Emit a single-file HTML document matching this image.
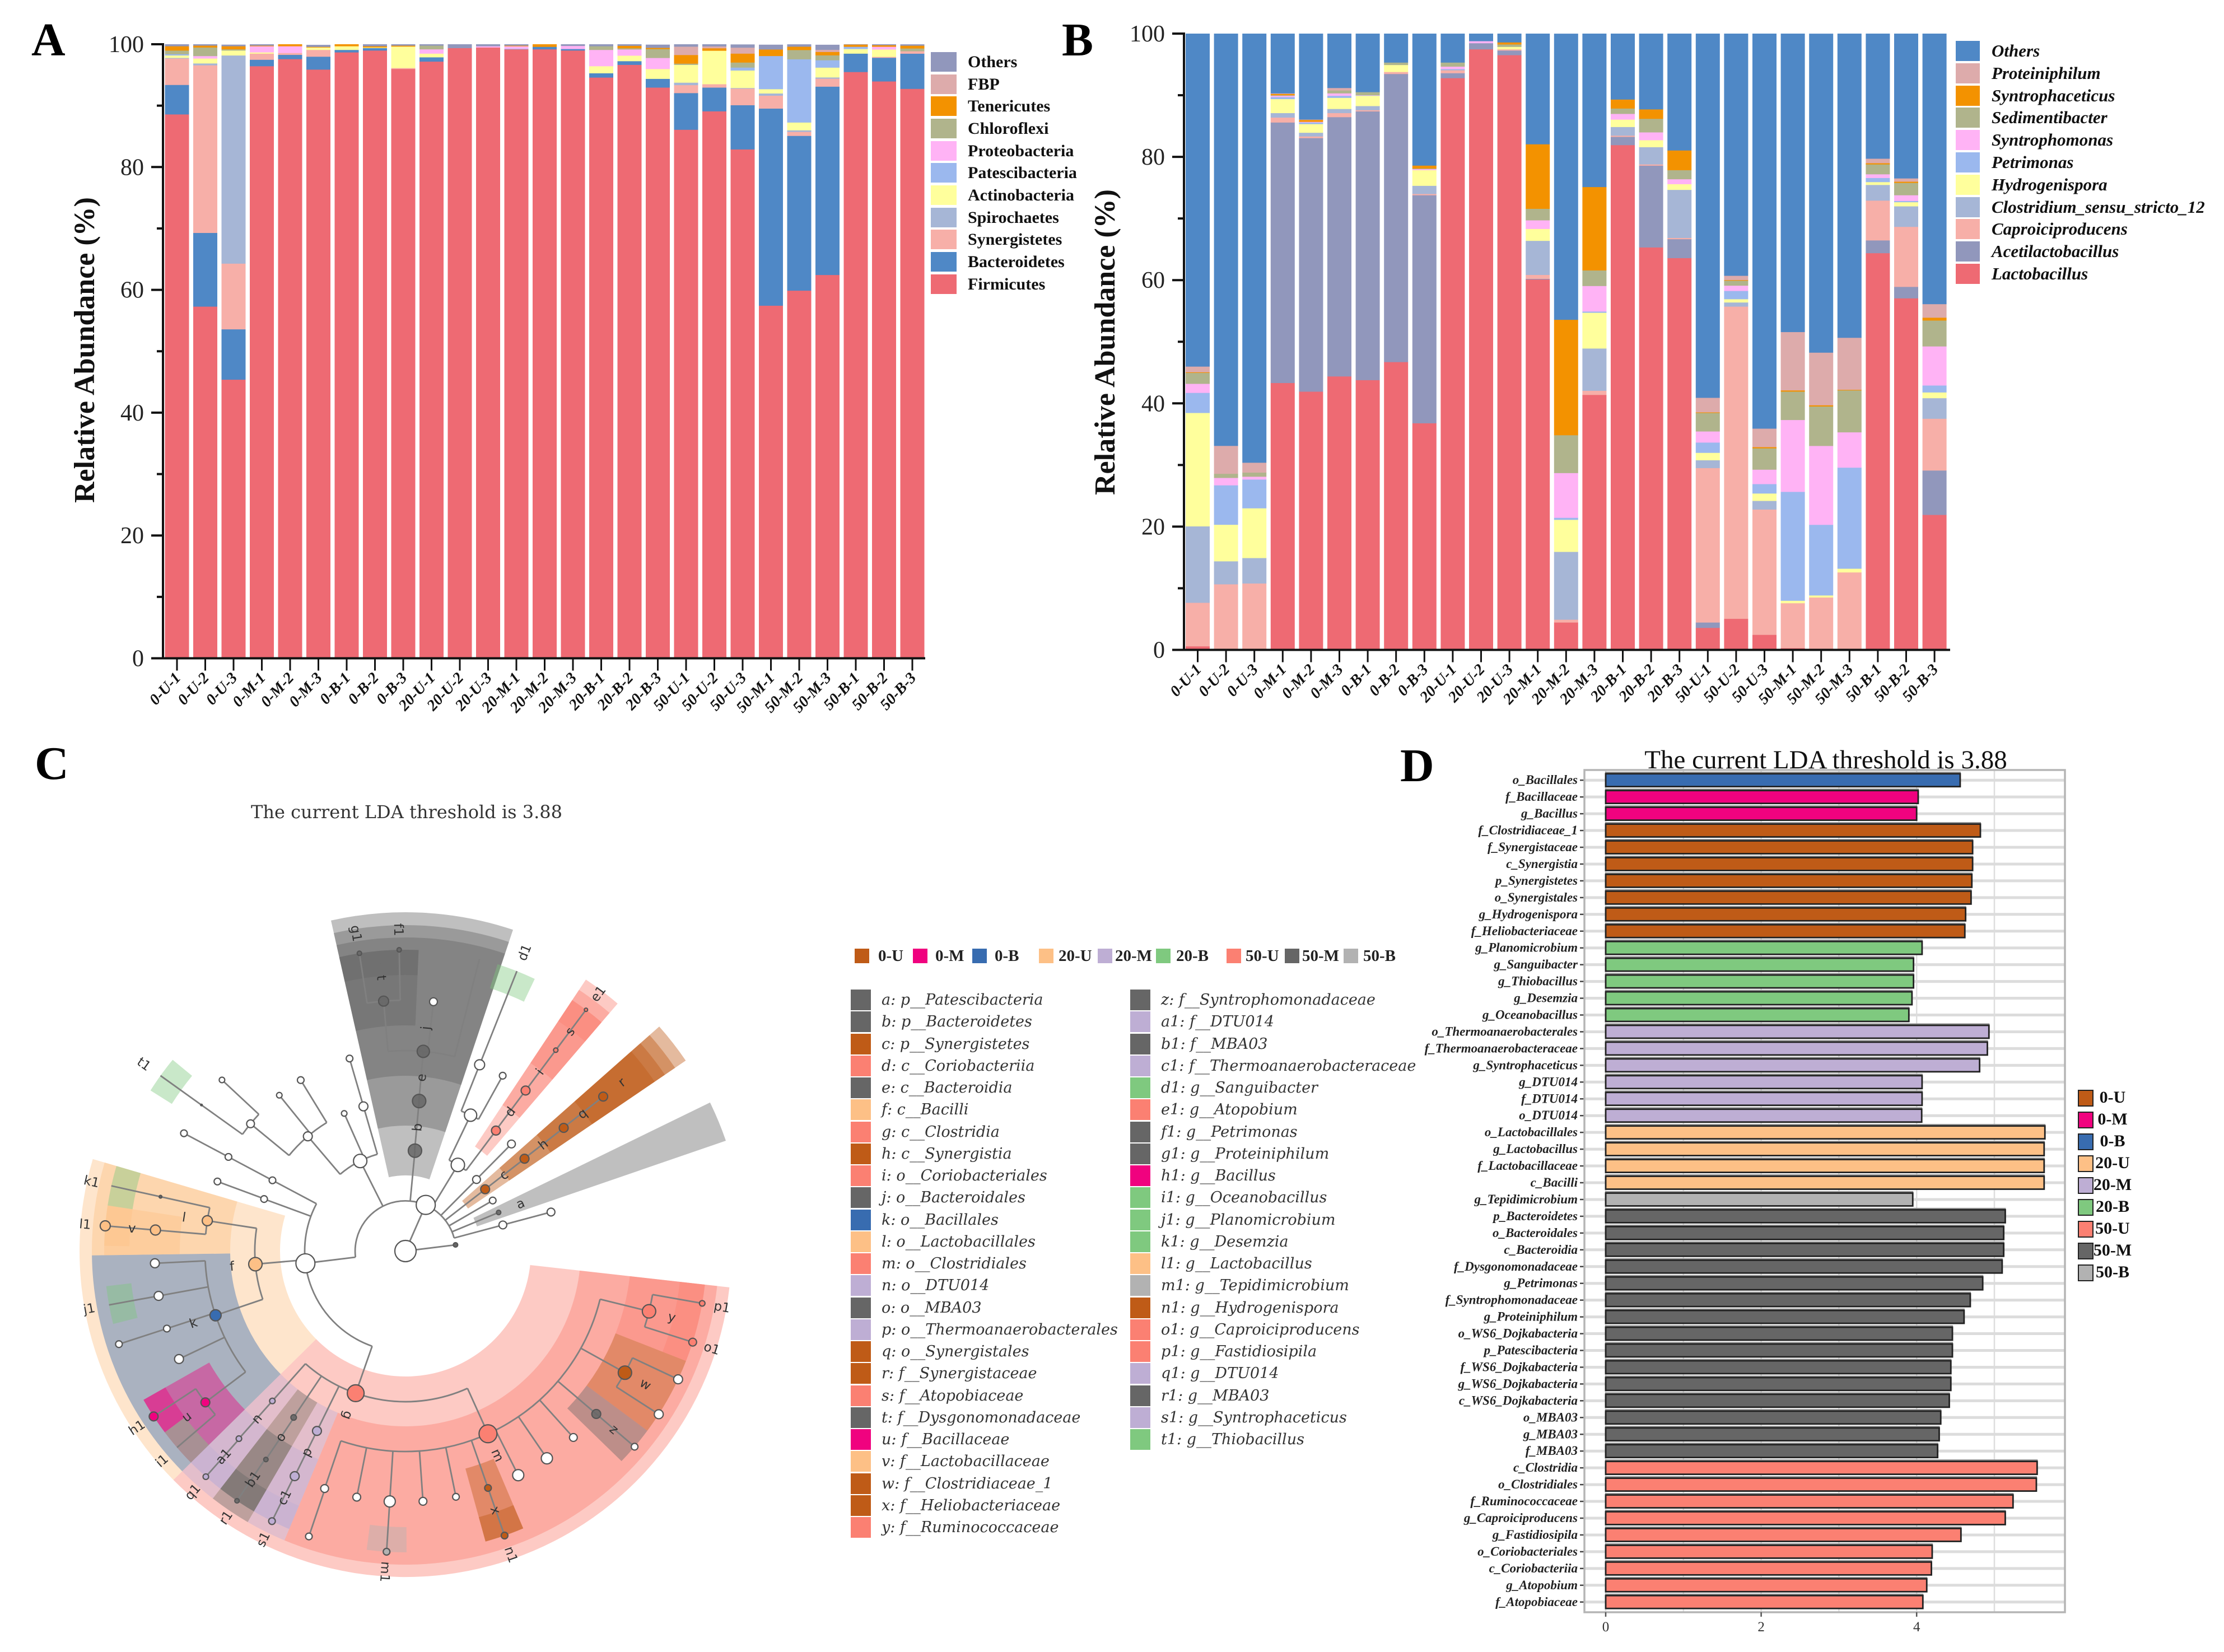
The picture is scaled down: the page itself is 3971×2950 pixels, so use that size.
<!DOCTYPE html>
<html lang="en">
<head>
<meta charset="utf-8">
<title>Microbial community composition and LEfSe analysis</title>
<style>
html,body{margin:0;padding:0;background:#fff}
#page{position:relative;width:3971px;height:2950px;overflow:hidden;background:#fff;font-family:"Liberation Serif",serif}
svg{position:absolute;left:0;top:0}
.panel-letter{position:absolute;font:bold 84px/84px "Liberation Serif",serif;color:#000}
.lg{position:absolute}
.lg div{position:relative;white-space:nowrap;color:#111}
.lg i{position:absolute;left:0;top:0;display:block}
.lgA div{height:39.67px;font:bold 30px/35px "Liberation Serif",serif;padding-left:66px}
.lgA i{width:46px;height:35px}
.lgB div{height:39.8px;font:italic bold 31px/35px "Liberation Serif",serif;padding-left:64px}
.lgB i{width:43px;height:36px}
.lgC div{height:39.25px;font:italic 27px/37px "DejaVu Serif",serif;padding-left:55px;color:#333}
.lgC i{width:36px;height:37px}
.top-item{position:absolute;top:1692px;font:bold 29px/30px "Liberation Serif",serif;white-space:nowrap;color:#222}
.top-item i{position:absolute;top:2px;width:26px;height:26px;display:block}
.lgD div{height:39px;font:bold 30px/28px "Liberation Serif",serif;width:130px;text-align:center;padding-left:0}
.lgD span{position:absolute;left:0;width:124px;text-align:center;padding-left:0}
.lgD i{width:24px;height:26px;border:2.5px solid #222;box-sizing:content-box;left:0}
.chart-title{position:absolute;white-space:nowrap;text-align:center}
</style>
</head>
<body>
<div id="page">
<svg id="plot" width="3971" height="2950" viewBox="0 0 3971 2950" xmlns="http://www.w3.org/2000/svg"></svg>

<div class="panel-letter" style="left:56px;top:30px">A</div>
<div class="panel-letter" style="left:1896px;top:30px">B</div>
<div class="panel-letter" style="left:62px;top:1322px">C</div>
<div class="panel-letter" style="left:2500px;top:1326px">D</div>

<div class="chart-title" style="left:350px;width:852px;top:1432px;margin-left:-50px;font:32px/36px 'DejaVu Serif',serif;color:#333">The current LDA threshold is 3.88</div>
<div class="chart-title" style="left:2860px;width:800px;top:1332px;font:47px/50px 'Liberation Serif',serif;color:#111">The current LDA threshold is 3.88</div>

<div class="lg lgA" style="left:1662px;top:93px">
<div><i style="background:#9197BC"></i>Others</div>
<div><i style="background:#DDABAB"></i>FBP</div>
<div><i style="background:#F39200"></i>Tenericutes</div>
<div><i style="background:#B0B48C"></i>Chloroflexi</div>
<div><i style="background:#FFB3F5"></i>Proteobacteria</div>
<div><i style="background:#9BB8EE"></i>Patescibacteria</div>
<div><i style="background:#FFFF9C"></i>Actinobacteria</div>
<div><i style="background:#A6B6D6"></i>Spirochaetes</div>
<div><i style="background:#F7AFA8"></i>Synergistetes</div>
<div><i style="background:#4F88C6"></i>Bacteroidetes</div>
<div><i style="background:#EE6A73"></i>Firmicutes</div>
</div>

<div class="lg lgB" style="left:3492px;top:73px">
<div><i style="background:#4F88C6"></i>Others</div>
<div><i style="background:#DDABAB"></i>Proteiniphilum</div>
<div><i style="background:#F39200"></i>Syntrophaceticus</div>
<div><i style="background:#B0B48C"></i>Sedimentibacter</div>
<div><i style="background:#FFB3F5"></i>Syntrophomonas</div>
<div><i style="background:#9BB8EE"></i>Petrimonas</div>
<div><i style="background:#FFFF9C"></i>Hydrogenispora</div>
<div><i style="background:#A6B6D6"></i>Clostridium_sensu_stricto_12</div>
<div><i style="background:#F7AFA8"></i>Caproiciproducens</div>
<div><i style="background:#9197BC"></i>Acetilactobacillus</div>
<div><i style="background:#EE6A73"></i>Lactobacillus</div>
</div>

<div>
<div class="top-item" style="left:1526px;padding-left:42px"><i style="left:0;background:#BF5B17"></i>0-U</div>
<div class="top-item" style="left:1630px;padding-left:40px"><i style="left:0;background:#F0027F"></i>0-M</div>
<div class="top-item" style="left:1736px;padding-left:40px"><i style="left:0;background:#386CB0"></i>0-B</div>
<div class="top-item" style="left:1855px;padding-left:35px"><i style="left:0;background:#FDC086"></i>20-U</div>
<div class="top-item" style="left:1960px;padding-left:31px"><i style="left:0;background:#BEAED4"></i>20-M</div>
<div class="top-item" style="left:2064px;padding-left:36px"><i style="left:0;background:#7FC97F"></i>20-B</div>
<div class="top-item" style="left:2190px;padding-left:34px"><i style="left:0;background:#FB8072"></i>50-U</div>
<div class="top-item" style="left:2294px;padding-left:31px"><i style="left:0;background:#666666"></i>50-M</div>
<div class="top-item" style="left:2399px;padding-left:35px"><i style="left:0;background:#B2B2B2"></i>50-B</div>
</div>

<div class="lg lgC" style="left:1519px;top:1767px">
<div><i style="background:#666666"></i>a: p__Patescibacteria</div>
<div><i style="background:#666666"></i>b: p__Bacteroidetes</div>
<div><i style="background:#BF5B17"></i>c: p__Synergistetes</div>
<div><i style="background:#FB8072"></i>d: c__Coriobacteriia</div>
<div><i style="background:#666666"></i>e: c__Bacteroidia</div>
<div><i style="background:#FDC086"></i>f: c__Bacilli</div>
<div><i style="background:#FB8072"></i>g: c__Clostridia</div>
<div><i style="background:#BF5B17"></i>h: c__Synergistia</div>
<div><i style="background:#FB8072"></i>i: o__Coriobacteriales</div>
<div><i style="background:#666666"></i>j: o__Bacteroidales</div>
<div><i style="background:#386CB0"></i>k: o__Bacillales</div>
<div><i style="background:#FDC086"></i>l: o__Lactobacillales</div>
<div><i style="background:#FB8072"></i>m: o__Clostridiales</div>
<div><i style="background:#BEAED4"></i>n: o__DTU014</div>
<div><i style="background:#666666"></i>o: o__MBA03</div>
<div><i style="background:#BEAED4"></i>p: o__Thermoanaerobacterales</div>
<div><i style="background:#BF5B17"></i>q: o__Synergistales</div>
<div><i style="background:#BF5B17"></i>r: f__Synergistaceae</div>
<div><i style="background:#FB8072"></i>s: f__Atopobiaceae</div>
<div><i style="background:#666666"></i>t: f__Dysgonomonadaceae</div>
<div><i style="background:#F0027F"></i>u: f__Bacillaceae</div>
<div><i style="background:#FDC086"></i>v: f__Lactobacillaceae</div>
<div><i style="background:#BF5B17"></i>w: f__Clostridiaceae_1</div>
<div><i style="background:#BF5B17"></i>x: f__Heliobacteriaceae</div>
<div><i style="background:#FB8072"></i>y: f__Ruminococcaceae</div>
</div>
<div class="lg lgC" style="left:2018px;top:1767px">
<div><i style="background:#666666"></i>z: f__Syntrophomonadaceae</div>
<div><i style="background:#BEAED4"></i>a1: f__DTU014</div>
<div><i style="background:#666666"></i>b1: f__MBA03</div>
<div><i style="background:#BEAED4"></i>c1: f__Thermoanaerobacteraceae</div>
<div><i style="background:#7FC97F"></i>d1: g__Sanguibacter</div>
<div><i style="background:#FB8072"></i>e1: g__Atopobium</div>
<div><i style="background:#666666"></i>f1: g__Petrimonas</div>
<div><i style="background:#666666"></i>g1: g__Proteiniphilum</div>
<div><i style="background:#F0027F"></i>h1: g__Bacillus</div>
<div><i style="background:#7FC97F"></i>i1: g__Oceanobacillus</div>
<div><i style="background:#7FC97F"></i>j1: g__Planomicrobium</div>
<div><i style="background:#7FC97F"></i>k1: g__Desemzia</div>
<div><i style="background:#FDC086"></i>l1: g__Lactobacillus</div>
<div><i style="background:#B2B2B2"></i>m1: g__Tepidimicrobium</div>
<div><i style="background:#BF5B17"></i>n1: g__Hydrogenispora</div>
<div><i style="background:#FB8072"></i>o1: g__Caproiciproducens</div>
<div><i style="background:#FB8072"></i>p1: g__Fastidiosipila</div>
<div><i style="background:#BEAED4"></i>q1: g__DTU014</div>
<div><i style="background:#666666"></i>r1: g__MBA03</div>
<div><i style="background:#BEAED4"></i>s1: g__Syntrophaceticus</div>
<div><i style="background:#7FC97F"></i>t1: g__Thiobacillus</div>
</div>

<div class="lg lgD" style="left:3710px;top:1946px">
<div><i style="background:#BF5B17"></i><span>0-U</span></div>
<div><i style="background:#F0027F"></i><span>0-M</span></div>
<div><i style="background:#386CB0"></i><span>0-B</span></div>
<div><i style="background:#FDC086"></i><span>20-U</span></div>
<div><i style="background:#BEAED4"></i><span>20-M</span></div>
<div><i style="background:#7FC97F"></i><span>20-B</span></div>
<div><i style="background:#FB8072"></i><span>50-U</span></div>
<div><i style="background:#666666"></i><span>50-M</span></div>
<div><i style="background:#B2B2B2"></i><span>50-B</span></div>
</div>
</div>

<script>
/* ---------- shared categories and ticks ---------- */
const sampleLabels = ["0-U-1","0-U-2","0-U-3","0-M-1","0-M-2","0-M-3","0-B-1","0-B-2","0-B-3","20-U-1","20-U-2","20-U-3","20-M-1","20-M-2","20-M-3","20-B-1","20-B-2","20-B-3","50-U-1","50-U-2","50-U-3","50-M-1","50-M-2","50-M-3","50-B-1","50-B-2","50-B-3"];
const abundanceTicks = [0,20,40,60,80,100];
const abundanceMinorTicks = [10,30,50,70,90];

/* ---------- panel A values (phylum %) ---------- */
const firmicutes = [88.6,57.3,45.4,96.45,97.6,95.9,98.7,99.0,96.0,97.2,99.4,99.5,99.2,99.2,99.0,94.6,96.67,92.97,86.1,89.1,82.9,57.45,59.9,62.45,95.5,93.97,92.76];
const bacteroidetes = [4.8,12,8.2,1.05,.7,2.1,.4,.4,0,.7,0,0,0,.4,.25,.7,.6,1.42,5.97,3.87,7.2,32.1,25.2,30.67,3.0,3.85,5.73];
const synergistetes = [4.3,27.3,10.7,1.0,.3,1.1,0,0,.15,0,0,0,0,0,0,0,0,0,1.3,.55,2.7,2.1,.66,1.3,0,.15,.4];
const spirochaetes = [.1,.3,33.9,0,0,0,0,0,0,0,0,0,0,0,0,0,0,0,.4,0,.1,.36,.25,.2,0,0,0];
const actinobacteria = [.4,.8,.8,.2,0,.4,.6,.1,3.5,.6,0,0,0,0,0,1.15,.9,1.6,2.9,5.45,2.85,.7,1.27,1.6,.75,1.2,0];
const patescibacteria = [.2,0,0,0,0,0,0,0,0,0,0,0,.1,0,0,0,0,0,0,0,.48,5.4,10.3,1.2,.36,0,0];
const proteobacteria = [0,.4,0,1.0,1.1,0,0,0,0,.7,0,.2,.4,0,.5,2.65,1.0,1.8,0,0,0,0,0,0,0,.45,0];
const chloroflexi = [.6,1.4,.2,0,0,0,0,0,0,.6,0,0,0,0,0,.6,.2,1.45,.2,0,.82,0,1.5,.8,0,0,.45];
const tenericutes = [.7,.3,.5,.1,.3,.1,.3,.2,.15,0,0,0,.1,.4,0,0,.4,.2,1.4,.4,1.45,1.06,.55,.55,.36,.25,.45];
const fbp = [0,0,0,0,0,0,0,0,0,0,0,0,0,0,0,0,0,0,1.36,.3,.97,0,0,.35,0,0,0];
const phylumOthers = [.3,.2,.24,.2,0,.3,0,.3,.2,.2,.6,.3,.2,0,.25,.3,.23,.5,.37,.33,.5,.76,.36,.8,.03,.38,.2];

/* ---------- panel B values (genus %) ---------- */
const lactobacillus = [.6,0,.2,43.33,41.93,44.4,43.8,46.73,36.8,92.8,97.47,96.53,60.13,4.47,41.4,81.93,65.33,63.6,3.6,5.07,2.47,.3,0,0,64.4,57.07,21.93];
const acetilactobacillus = [0,0,0,42.27,41.14,42.07,43.6,46.74,37,.8,1,.74,.1,0,0,1.34,13.27,3.07,.87,0,0,0,0,0,2.07,1.86,7.2];
const caproiciproducens = [7.07,10.67,10.6,.8,.27,.66,.2,.33,.2,.47,0,.2,.64,.46,.67,.2,.2,.2,25.06,50.66,20.33,7.3,8.53,12.6,6.46,9.74,8.4];
const clostridium12 = [12.4,3.73,4.13,.73,.6,.67,.67,0,1.33,.1,0,0,5.53,11,6.86,1.4,2.8,7.8,1.27,.67,1.4,0,0,0,2.54,3.33,3.34];
const hydrogenispora = [18.4,5.93,8.07,2.27,1.4,1.8,1.66,1.13,2.54,0,0,.4,1.93,5.2,5.8,1.2,1.13,.93,1.2,.53,1.2,.4,.33,.6,.46,.67,.93];
const petrimonas = [3.26,6.4,4.67,.33,.27,.33,.05,0,0,.1,0,0,0,.33,.2,0,0,0,1.67,1.34,1.53,17.67,11.46,16.4,.67,.2,1.13];
const syntrophomonas = [1.47,1.2,.46,.2,.1,.4,.05,0,.17,.4,.33,0,1.4,7.26,4.14,.93,1.27,.8,1.8,.86,2.34,11.66,12.8,5.73,.6,.93,6.34];
const sedimentibacter = [1.77,.67,.67,.1,0,.47,.5,.4,.1,.66,0,.4,1.87,6.14,2.53,.87,2.2,1.47,3,.8,3.46,4.6,6.4,6.8,1.6,2,4.2];
const syntrophaceticus = [.1,0,0,.2,.3,0,0,0,.47,0,0,.33,10.47,18.73,13.53,1.46,1.53,3.2,.1,.1,.2,.2,.2,.1,.2,.2,.46];
const proteiniphilum = [.93,4.53,1.6,.1,.07,.4,0,0,0,0,0,0,0,0,0,0,0,0,2.36,.7,3,9.47,8.54,8.44,.73,.53,2.2];
const genusOthers = [54,66.87,69.6,9.67,13.93,8.8,9.47,4.67,21.4,4.67,1.2,1.4,17.93,46.4,24.87,10.67,12.27,18.93,59.07,39.27,64.07,48.4,51.73,49.33,20.27,23.47,43.87];

/* ---------- panel D values (LDA score) ---------- */
const ldaTaxa = ["o_Bacillales","f_Bacillaceae","g_Bacillus","f_Clostridiaceae_1","f_Synergistaceae","c_Synergistia","p_Synergistetes","o_Synergistales","g_Hydrogenispora","f_Heliobacteriaceae","g_Planomicrobium","g_Sanguibacter","g_Thiobacillus","g_Desemzia","g_Oceanobacillus","o_Thermoanaerobacterales","f_Thermoanaerobacteraceae","g_Syntrophaceticus","g_DTU014","f_DTU014","o_DTU014","o_Lactobacillales","g_Lactobacillus","f_Lactobacillaceae","c_Bacilli","g_Tepidimicrobium","p_Bacteroidetes","o_Bacteroidales","c_Bacteroidia","f_Dysgonomonadaceae","g_Petrimonas","f_Syntrophomonadaceae","g_Proteiniphilum","o_WS6_Dojkabacteria","p_Patescibacteria","f_WS6_Dojkabacteria","g_WS6_Dojkabacteria","c_WS6_Dojkabacteria","o_MBA03","g_MBA03","f_MBA03","c_Clostridia","o_Clostridiales","f_Ruminococcaceae","g_Caproiciproducens","g_Fastidiosipila","o_Coriobacteriales","c_Coriobacteriia","g_Atopobium","f_Atopobiaceae"];
const ldaScores = [4.56,4.02,4.00,4.82,4.72,4.72,4.71,4.70,4.63,4.62,4.07,3.96,3.96,3.94,3.90,4.93,4.91,4.81,4.07,4.07,4.065,5.65,5.64,5.64,5.64,3.95,5.14,5.12,5.12,5.10,4.85,4.69,4.61,4.46,4.46,4.44,4.44,4.42,4.31,4.29,4.27,5.55,5.54,5.24,5.14,4.57,4.20,4.19,4.13,4.08];
const ldaGroups = ["0-B","0-M","0-M","0-U","0-U","0-U","0-U","0-U","0-U","0-U","20-B","20-B","20-B","20-B","20-B","20-M","20-M","20-M","20-M","20-M","20-M","20-U","20-U","20-U","20-U","50-B","50-M","50-M","50-M","50-M","50-M","50-M","50-M","50-M","50-M","50-M","50-M","50-M","50-M","50-M","50-M","50-U","50-U","50-U","50-U","50-U","50-U","50-U","50-U","50-U"];
const ldaTicks = [0,2,4];
const ldaGridTicks = [0,1,2,3,4,5];

/* ---------- panel C cladogram: [id, parent, angle deg, taxonomic level, node weight, group, label] ---------- */
const cladeNodes = [
["root",null,180,0,19,"",""],["arch","root",83,1,4,"grey",""],["bact","root",23.7,1,17,"",""],
["firm","bact",-97,2,17,"",""],["x1","bact",-26.7,2,12,"",""],["b","bact",5.4,2,12,"50-M","b"],["p2","bact",31.3,2,12,"",""],["p3","bact",44.8,2,7,"",""],["c","bact",52.2,2,8,"0-U","c"],["p4","bact",59.9,2,6,"",""],["a","bact",67.5,2,4,"50-M","a"],["p5","bact",75,2,7,"",""],
["e","b",5.2,3,12,"50-M","e"],["j","e",5.1,4,11,"50-M","j"],["t","j",-5,5,9,"50-M","t"],["jw","j",6.4,5,7,"",""],["jx","j",14.2,6,0,"",""],["f1","t",-1.2,6,4,"50-M","f1"],["g1","t",-8.8,6,4,"50-M","g1"],
["q1n","p2",25.6,3,11,"",""],["d","p2",36.9,3,8,"50-U","d"],["q2","q1n",21.7,4,9,"",""],["q3","q1n",29,4,6,"",""],["d1","q2",21.7,6,0,"","d1"],["i","d",36.8,4,8,"50-U","i"],["s","i",36.8,5,4,"50-U","s"],["e1","s",36.8,6,3,"50-U","e1"],
["p3c","p3",44.7,3,7,"",""],["h","c",52.2,3,8,"0-U","h"],["q","h",52.1,4,8,"0-U","q"],["r","q",52,5,8,"0-U","r"],["p5c","p5",75,3,7,"",""],
["aa","x1",-40.4,3,8,"",""],["ab","x1",-24,3,5,"",""],["y1","x1",-16.2,3,8,"",""],["y2","y1",-16.2,4,6,"",""],
["a1n","aa",-31.5,4,6,"",""],["a2n","aa",-39,4,5,"",""],["w0","aa",-50.6,4,7,"",""],["w1","w0",-47,5,5,"",""],["w2","w0",-54.4,5,1.5,"grey",""],["t1","w2",-54.4,6,0,"","t1"],
["f8","firm",298,3,6,"",""],["f9","firm",290.2,3,6,"",""],["f","firm",265,3,12,"20-U","f"],["g","firm",199.3,3,15,"50-U","g"],
["f8a","f8",298,4,6,"",""],["f8b","f8a",298,5,6,"",""],["f9a","f9",290.3,4,6,"",""],
["l","f",278.7,4,9,"20-U","l"],["k","f",251.3,4,10,"0-B","k"],["ldot","l",282.5,5,2.5,"grey",""],["v","l",274.8,5,9,"20-U","v"],["k1","ldot",282.5,6,0,"","k1"],["l1","v",274.8,6,9,"20-U","l1"],
["k5a","k",267.2,5,8,"",""],["k5b","k",259.7,5,8,"",""],["j1","k5b",259.7,6,0,"","j1"],["k5c","k",252,5,6,"",""],["k6c","k5c",252,6,6,"",""],["k5d","k",244.5,5,8,"",""],["u","k",232.9,5,8,"0-M","u"],["h1","u",236.7,6,8,"0-M","h1"],["i1","u",229.3,6,0,"","i1"],
["m","g",155.7,4,16,"50-U","m"],["p","g",206.2,4,8,"20-M","p"],["o","g",213.9,4,5,"50-M","o"],["n","g",221.6,4,5,"20-M","n"],
["c1","p",206.2,5,8,"20-M","c1"],["s1","c1",206.3,6,6,"20-M","s1"],["b1","o",213.8,5,4,"50-M","b1"],["r1","b1",214,6,4,"50-M","r1"],["a1","n",221.6,5,5,"20-M","a1"],["q1","a1",221.5,6,5,"20-M","q1"],
["m1a","m",198.8,5,7,"",""],["m1b","m1a",198.7,6,6,"",""],["m2","m",191.2,5,7,"",""],["m3","m",183.6,5,10,"",""],["m1","m3",183.6,6,6,"50-B","m1"],["m4","m",176,5,7,"",""],["m5","m",168.4,5,6,"",""],["x","m",160.8,5,6,"0-U","x"],["n1","x",160.8,6,6,"0-U","n1"],["m6","m",153.3,5,10,"",""],["m7","m",145.7,5,10,"",""],["m8","m",138,5,7,"",""],
["z","m",130.5,5,8,"50-M","z"],["z1","z",130.5,6,6,"",""],["w","m",119,5,12,"0-U","w"],["w3","w",122.8,6,8,"",""],["w4","w",115.2,6,8,"",""],["y","m",103.9,5,12,"50-U","y"],["p1","y",100,6,5,"50-U","p1"],["o1","y",107.6,6,7,"50-U","o1"]
];
/* highlighted clades: [name, start angle, end angle, level, group] */
const cladeWedges = [
["a",64,71,2,"50-M"],["b",-12.7,18.5,2,"50-M"],["c",48.5,55.8,2,"0-U"],
["d",33.6,40.6,3,"50-U"],["e",-12.7,18.5,3,"50-M"],["f",225.4,286.4,3,"20-U"],["g",96.4,225.4,3,"50-U"],["h",48.5,55.8,3,"0-U"],
["i",33.6,40.6,4,"50-U"],["j",-12.7,18.5,4,"50-M"],["k",225.4,269.2,4,"0-B"],["l",269.2,286.4,4,"20-U"],["m",96.4,202.7,4,"50-U"],["n",217.9,225.4,4,"20-M"],["o",210.2,217.9,4,"50-M"],["p",202.7,210.2,4,"20-M"],["q",48.5,55.8,4,"0-U"],
["r",48.5,55.8,5,"0-U"],["s",33.6,40.6,5,"50-U"],["t",-12.7,2.5,5,"50-M"],["u",225.4,240.4,5,"0-M"],["v",269.2,278.7,5,"20-U"],["w",111.4,126.6,5,"0-U"],["x",157,164.6,5,"0-U"],["y",96.4,111.4,5,"50-U"],["z",126.6,134.2,5,"50-M"],["a1",217.9,225.4,5,"20-M"],["b1",210.2,217.9,5,"50-M"],["c1",202.7,210.2,5,"20-M"],
["d1",17.8,25.4,6,"20-B"],["e1",33.6,40.6,6,"50-U"],["f1",-5,2.5,6,"50-M"],["g1",-12.7,-5,6,"50-M"],["h1",233,240.4,6,"0-M"],["i1",225.4,233,6,"20-B"],["j1",256,263.3,6,"20-B"],["k1",278.7,286.4,6,"20-B"],["l1",271,278.7,6,"20-U"],["m1",179.8,187.4,6,"50-B"],["n1",157,164.6,6,"0-U"],["o1",103.9,111.4,6,"50-U"],["p1",96.4,103.9,6,"50-U"],["q1",217.9,225.4,6,"20-M"],["r1",210.2,217.9,6,"50-M"],["s1",202.7,210.2,6,"20-M"],["t1",-57.8,-50.6,6,"20-B"]
];

const groupColor = {"0-U":"#BF5B17","0-M":"#F0027F","0-B":"#386CB0","20-U":"#FDC086","20-M":"#BEAED4","20-B":"#7FC97F","50-U":"#FB8072","50-M":"#666666","50-B":"#B2B2B2","grey":"#666666","":"#ffffff"};

const svg = document.getElementById('plot');
const NS = 'http://www.w3.org/2000/svg';
function mk(tag, attrs, parent, txt){
  const el = document.createElementNS(NS, tag);
  for (const key in attrs) el.setAttribute(key, attrs[key]);
  if (txt !== undefined) el.textContent = txt;
  (parent || svg).appendChild(el);
  return el;
}
function group(name){
  const g = mk('g', {});
  
  
  return g;
}

/* ---------- stacked bars (A, B) ---------- */
function stackedChart(cfg){
  const g = group(cfg.name);
  const y = v => cfg.y0 + (cfg.y100 - cfg.y0) * v / 100;
  const x = i => cfg.x0 + cfg.pitch * i;
  sampleLabels.forEach((lab, i) => {
    let acc = 0;
    cfg.series.forEach(s => {
      const val = s.values[i];
      if (val <= 0) { return; }
      const r = mk('rect', {x: x(i), y: y(Math.min(acc + val, 100)), width: cfg.barW, height: y(acc) - y(Math.min(acc + val, 100)) + 0.4, fill: s.color}, g);
      
      
      acc += val;
    });
    const tick = mk('line', {x1: x(i) + cfg.barW / 2, x2: x(i) + cfg.barW / 2, y1: cfg.y0, y2: cfg.y0 + 22, stroke: '#111', 'stroke-width': 3}, g);
    
    
    const tx = x(i) + cfg.barW / 2 + 8, ty = cfg.y0 + 36;
    const t = mk('text', {x: tx, y: ty, transform: 'rotate(-47 ' + tx + ' ' + ty + ')', 'text-anchor': 'end', 'font-family': '"Liberation Serif", serif', 'font-style': 'italic', 'font-weight': 'bold', 'font-size': 28, fill: '#111'}, g, lab);
    
    
  });
  const yAxis = mk('line', {x1: cfg.axisX, x2: cfg.axisX, y1: cfg.y100 - 2, y2: cfg.y0 + 2, stroke: '#111', 'stroke-width': 4}, g);
  
  
  const xAxis = mk('line', {x1: cfg.axisX - 21, x2: cfg.xEnd, y1: cfg.y0, y2: cfg.y0, stroke: '#111', 'stroke-width': 4}, g);
  
  
  abundanceTicks.forEach(v => {
    const tk = mk('line', {x1: cfg.axisX - 21, x2: cfg.axisX, y1: y(v), y2: y(v), stroke: '#111', 'stroke-width': 4}, g);
    
    
    const tl = mk('text', {x: cfg.axisX - 34, y: y(v) + 14, 'text-anchor': 'end', 'font-family': '"Liberation Serif", serif', 'font-size': 42, fill: '#222'}, g, String(v));
    
    
  });
  abundanceMinorTicks.forEach(v => {
    const tk = mk('line', {x1: cfg.axisX - 11, x2: cfg.axisX, y1: y(v), y2: y(v), stroke: '#111', 'stroke-width': 4}, g);
    
    
  });
  const title = mk('text', {x: cfg.titleX, y: cfg.titleY, transform: 'rotate(-90 ' + cfg.titleX + ' ' + cfg.titleY + ')', 'text-anchor': 'middle', 'font-family': '"Liberation Serif", serif', 'font-weight': 'bold', 'font-size': 52, fill: '#111'}, g, 'Relative Abundance (%)');
  
  
}
stackedChart({name:'panel-a-phylum-chart', x0:294.5, pitch:50.5, barW:43, y0:1175.5, y100:79, axisX:291, xEnd:1652, titleX:168, titleY:625, series:[
  {key:'firmicutes',values:firmicutes,color:'#EE6A73'},{key:'bacteroidetes',values:bacteroidetes,color:'#4F88C6'},{key:'synergistetes',values:synergistetes,color:'#F7AFA8'},{key:'spirochaetes',values:spirochaetes,color:'#A6B6D6'},{key:'actinobacteria',values:actinobacteria,color:'#FFFF9C'},{key:'patescibacteria',values:patescibacteria,color:'#9BB8EE'},{key:'proteobacteria',values:proteobacteria,color:'#FFB3F5'},{key:'chloroflexi',values:chloroflexi,color:'#B0B48C'},{key:'tenericutes',values:tenericutes,color:'#F39200'},{key:'fbp',values:fbp,color:'#DDABAB'},{key:'others',values:phylumOthers,color:'#9197BC'}]});
stackedChart({name:'panel-b-genus-chart', x0:2117, pitch:50.6, barW:43, y0:1160.5, y100:60, axisX:2114, xEnd:3482, titleX:1990, titleY:611, series:[
  {key:'lactobacillus',values:lactobacillus,color:'#EE6A73'},{key:'acetilactobacillus',values:acetilactobacillus,color:'#9197BC'},{key:'caproiciproducens',values:caproiciproducens,color:'#F7AFA8'},{key:'clostridium',values:clostridium12,color:'#A6B6D6'},{key:'hydrogenispora',values:hydrogenispora,color:'#FFFF9C'},{key:'petrimonas',values:petrimonas,color:'#9BB8EE'},{key:'syntrophomonas',values:syntrophomonas,color:'#FFB3F5'},{key:'sedimentibacter',values:sedimentibacter,color:'#B0B48C'},{key:'syntrophaceticus',values:syntrophaceticus,color:'#F39200'},{key:'proteiniphilum',values:proteiniphilum,color:'#DDABAB'},{key:'others',values:genusOthers,color:'#4F88C6'}]});

/* ---------- cladogram (C) ---------- */
(function(){
  const g = group('panel-c-cladogram');
  const CX = 724, CY = 2234;
  const levelRadius = l => [0, 90, 180, 269, 358, 448, 538][l];
  const bandInner = l => levelRadius(l) - 45;
  const bandOuter = l => [0, 0, 605, 582, 560, 538, 538][l];
  const polar = (deg, r) => {
    const a = deg * Math.PI / 180;
    return [CX + r * Math.sin(a), CY - r * Math.cos(a)];
  };
  const f = p => p[0].toFixed(1) + ' ' + p[1].toFixed(1);
  cladeWedges.forEach(wd => {
    const a0 = wd[1], a1 = wd[2], ri = bandInner(wd[3]), ro = bandOuter(wd[3]);
    const big = (a1 - a0) > 180 ? 1 : 0;
    const d = 'M' + f(polar(a0, ro)) + ' A' + ro + ' ' + ro + ' 0 ' + big + ' 1 ' + f(polar(a1, ro)) + ' L' + f(polar(a1, ri)) + ' A' + ri + ' ' + ri + ' 0 ' + big + ' 0 ' + f(polar(a0, ri)) + ' Z';
    const p = mk('path', {d: d, fill: groupColor[wd[4]], 'fill-opacity': 0.42}, g);
    
    
  });
  const byId = {};
  cladeNodes.forEach(n => { byId[n[0]] = n; });
  const kids = {};
  cladeNodes.forEach(n => { if (n[1]) { (kids[n[1]] = kids[n[1]] || []).push(n); } });
  const edgeStyle = {fill: 'none', stroke: '#808080', 'stroke-width': 2.8};
  Object.keys(kids).forEach(pid => {
    const par = byId[pid], rp = levelRadius(par[3]);
    const list = kids[pid];
    if (pid === 'root') {
      list.forEach(ch => {
        const l = mk('line', Object.assign({x1: CX, y1: CY, x2: polar(ch[2], levelRadius(ch[3]))[0], y2: polar(ch[2], levelRadius(ch[3]))[1]}, edgeStyle), g);
        
        
      });
      return;
    }
    const angs = list.map(c => c[2]);
    const lo = Math.min.apply(null, angs), hi = Math.max.apply(null, angs);
    if (hi - lo > 0.01) {
      const arc = mk('path', Object.assign({d: 'M' + f(polar(lo, rp)) + ' A' + rp + ' ' + rp + ' 0 ' + ((hi - lo) > 180 ? 1 : 0) + ' 1 ' + f(polar(hi, rp))}, edgeStyle), g);
      
      
    }
    list.forEach(ch => {
      const a = polar(ch[2], rp), b = polar(ch[2], levelRadius(ch[3]));
      const l = mk('line', Object.assign({x1: a[0], y1: a[1], x2: b[0], y2: b[1]}, edgeStyle), g);
      
      
    });
  });
  cladeNodes.forEach(n => {
    const size = n[4];
    if (size > 0) {
      const pos = polar(n[2], levelRadius(n[3]));
      const c = mk('circle', {cx: pos[0], cy: pos[1], r: size, fill: groupColor[n[5]], 'fill-opacity': n[5] === '50-M' ? 0.85 : 1, stroke: '#555', 'stroke-width': 2.2}, g);
      
      
    }
    if (n[6]) {
      const leaf = n[3] === 6;
      const pos = polar(n[2], levelRadius(n[3]) + (leaf ? 36 : 42));
      let a = ((n[2] % 360) + 360) % 360;
      const rot = (a > 0 && a < 200) ? a - 90 : a + 90;
      const t = mk('text', {x: pos[0], y: pos[1] + 8, transform: 'rotate(' + rot.toFixed(1) + ' ' + pos[0].toFixed(1) + ' ' + pos[1].toFixed(1) + ')', 'text-anchor': 'middle', 'font-family': '"DejaVu Sans", sans-serif', 'font-size': 23, fill: '#333'}, g, n[6]);
      
      
    }
  });
})();

/* ---------- LDA bars (D) ---------- */
(function(){
  const g = group('panel-d-lda-chart');
  const frameL = 2829, frameR = 3687, frameT = 1375, frameB = 2879;
  const x = v => 2867 + 138.8 * v;
  const y = i => 1393.2 + 29.95 * i;
  ldaGridTicks.forEach(v => {
    const l = mk('line', {x1: x(v), x2: x(v), y1: frameT, y2: frameB, stroke: '#dedede', 'stroke-width': 2.5}, g);
    
    
  });
  ldaTaxa.forEach((name, i) => {
    const gl = mk('line', {x1: frameL, x2: frameR, y1: y(i), y2: y(i), stroke: '#dcdcdc', 'stroke-width': 5}, g);
    
    
    const sh = mk('rect', {x: x(0) - 1, y: y(i) - 15, width: x(ldaScores[i]) - x(0) + 2, height: 27, fill: '#8d8d8d'}, g);
    
    
    const r = mk('rect', {x: x(0), y: y(i) - 11.5, width: x(ldaScores[i]) - x(0), height: 23, fill: groupColor[ldaGroups[i]], stroke: '#222', 'stroke-width': 2.8}, g);
    
    
    const tk = mk('line', {x1: frameL - 8, x2: frameL, y1: y(i), y2: y(i), stroke: '#444', 'stroke-width': 2.5}, g);
    
    
    const t = mk('text', {x: 2817, y: y(i) + 7, 'text-anchor': 'end', 'font-family': '"Liberation Serif", serif', 'font-style': 'italic', 'font-weight': 'bold', 'font-size': 23, fill: '#222'}, g, name);
    
    
  });
  const fr = mk('rect', {x: frameL, y: frameT, width: frameR - frameL, height: frameB - frameT, fill: 'none', stroke: '#b5b5b5', 'stroke-width': 3.5}, g);
  
  
  ldaTicks.forEach(v => {
    const tk = mk('line', {x1: x(v), x2: x(v), y1: frameB, y2: frameB + 8, stroke: '#555', 'stroke-width': 2.5}, g);
    
    
    const t = mk('text', {x: x(v), y: 2913, 'text-anchor': 'middle', 'font-family': '"Liberation Serif", serif', 'font-size': 25, fill: '#333'}, g, String(v));
    
    
  });
})();
</script>
</body>
</html>
